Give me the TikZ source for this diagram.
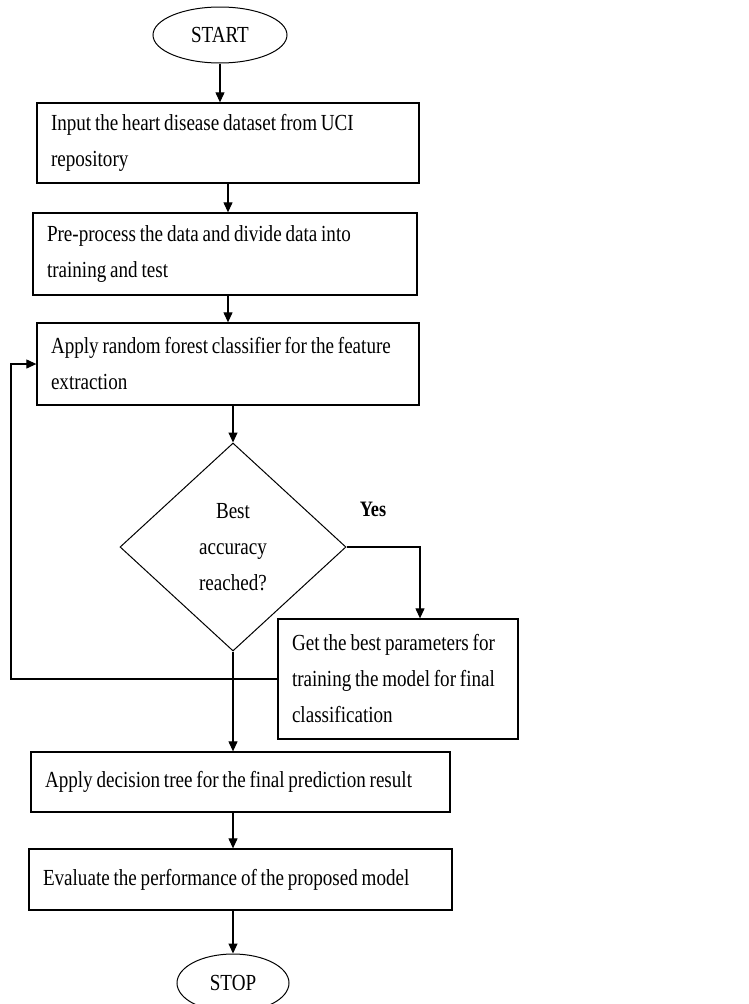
\documentclass[tikz,border=0pt]{standalone}
\usepackage{fontspec}
\setmainfont[FakeStretch=0.83,WordSpace=0.8]{Liberation Serif}
\usetikzlibrary{shapes.geometric,arrows.meta}
\begin{document}
\begin{tikzpicture}[x=1pt,y=-1pt,
  every node/.style={font=\fontsize{23}{36}\selectfont},
  procbox/.style={draw, line width=1.3pt, rectangle, inner xsep=14pt, inner ysep=0pt, align=flush left},
  term/.style={draw, line width=1pt, ellipse, inner sep=0pt},
  arr/.style={line width=1.1pt, -{Triangle[length=10pt,width=9pt]}},
  ln/.style={line width=1.1pt}]
\useasboundingbox (0,0) rectangle (749,1004);
\node[term, minimum width=134pt, minimum height=56pt] (start) at (220,35) {START};
\node[procbox, text width=354pt, minimum height=80pt] (box1) at (228,143) {Input the heart disease dataset from UCI\\repository};
\node[procbox, text width=356pt, minimum height=82pt] (box2) at (225,254) {Pre-process the data and divide data into\\training and test};
\node[procbox, text width=354pt, minimum height=82pt] (box3) at (228,364) {Apply random forest classifier for the feature\\extraction};
\node[draw, line width=1pt, diamond, minimum width=226pt, minimum height=208pt, inner sep=0pt, align=center] (dec) at (233,547) {Best\\accuracy\\reached?};
\node[font=\fontsize{22}{26}\selectfont\bfseries] (yes) at (373,509) {Yes};
\node[procbox, text width=212pt, minimum height=120pt] (box5) at (398,679) {Get the best parameters for\\training the model for final\\classification};
\node[procbox, text width=391pt, minimum height=60pt] (box6) at (240.5,782) {Apply decision tree for the final prediction result};
\node[procbox, text width=395pt, minimum height=61pt] (box7) at (240.5,879.5) {Evaluate the performance of the proposed model};
\node[term, minimum width=112pt, minimum height=58pt] (stop) at (233,983) {STOP};
\coordinate (loop) at (11,679);
\draw[arr] (start.south) -- (start.south |- box1.north);
\draw[arr] (box1.south) -- (box1.south |- box2.north);
\draw[arr] (box3.north |- box2.south) -- (box3.north);
\draw[arr] (dec.north |- box3.south) -- (dec.north);
\draw[arr] (dec.east) -| ([xshift=22pt]box5.north);
\draw[arr] (dec.south) -- (dec.south |- box6.north);
\draw[arr] (dec.south |- box6.south) -- (dec.south |- box7.north);
\draw[arr] (stop.north |- box7.south) -- (stop.north);
\draw[arr] (box5.west) -- (loop) |- (box3.west);
\end{tikzpicture}
\end{document}
